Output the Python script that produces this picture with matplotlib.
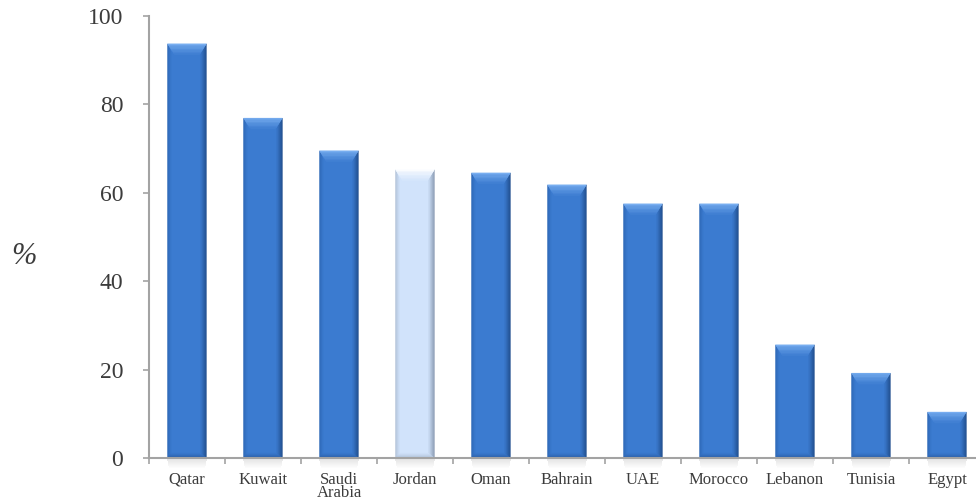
import matplotlib
matplotlib.use("Agg")
import matplotlib.pyplot as plt
import numpy as np
from matplotlib.patches import Polygon, Rectangle
from matplotlib.colors import to_rgb
from matplotlib.ticker import FixedLocator

countries = ["Qatar", "Kuwait", "Saudi\nArabia", "Jordan", "Oman", "Bahrain",
             "UAE", "Morocco", "Lebanon", "Tunisia", "Egypt"]
values = [93.7, 76.9, 69.5, 65.2, 64.5, 61.8, 57.5, 57.5, 25.6, 19.2, 10.4]
highlight = "Jordan"
y_ticks = [0, 20, 40, 60, 80, 100]

plt.rcParams["font.family"] = ["Liberation Serif", "DejaVu Serif"]
text_color = "#3c3c3c"
axis_color = "#a3a3a3"

W, H = 976, 497
fig = plt.figure(figsize=(W / 100, H / 100), dpi=100)
ax = fig.add_axes([149 / W, 39 / H, 836 / W, 442 / H])
ax.set_xlim(-0.5, len(values) - 0.5)
ax.set_ylim(0, 100)

# pixel -> data conversion for the bevel geometry
px_x = len(values) / 836.0
px_y = 100 / 442.0

bar_w = 0.51
palettes = {
    "normal": dict(body="#3b7bd0", top="#78aef0", left="#2f69b8",
                   right="#22508f", bottom="#2a5ea6"),
    "light": dict(body="#d1e3fb", top="#fbfdff", left="#b4c4da",
                  right="#8c9db5", bottom="#b0c1d8"),
}


def mix(c1, c2, t):
    a, b = np.array(to_rgb(c1)), np.array(to_rgb(c2))
    return tuple(a + (b - a) * t)


N = 8
for i, (name, v) in enumerate(zip(countries, values)):
    pal = palettes["light" if name == highlight else "normal"]
    x0, x1 = i - bar_w / 2, i + bar_w / 2
    # soft shadow under the axis
    for k in range(10):
        ax.add_patch(Rectangle((x0 - 0.01 + k * 0.003, -(k + 1) * px_y),
                               bar_w + 0.02 - k * 0.006, px_y,
                               facecolor="#000000", alpha=0.11 * (1 - k / 10),
                               edgecolor="none", clip_on=False, zorder=1))
    ax.bar(i, v, width=bar_w, color=pal["body"], edgecolor="none", zorder=2)

    sx_l, sx_r = 4 * px_x, 6 * px_x
    top_h, top_in = 11 * px_y, 7 * px_x
    bot_h = 5 * px_y
    # side bevels, darkest at the outer edge
    for k in range(N):
        t0, t1 = k / N, (k + 1) / N
        c = mix(pal["left"], pal["body"], t0)
        ax.add_patch(Polygon([(x0 + sx_l * t0, bot_h * t0), (x0 + sx_l * t1, bot_h * t1),
                              (x0 + sx_l * t1, v - top_h * t1), (x0 + sx_l * t0, v - top_h * t0)],
                             closed=True, facecolor=c, edgecolor=c, lw=0.3, zorder=3))
        c = mix(pal["right"], pal["body"], t0)
        ax.add_patch(Polygon([(x1 - sx_r * t0, bot_h * t0), (x1 - sx_r * t1, bot_h * t1),
                              (x1 - sx_r * t1, v - top_h * t1), (x1 - sx_r * t0, v - top_h * t0)],
                             closed=True, facecolor=c, edgecolor=c, lw=0.3, zorder=3))
    # bottom bevel
    for k in range(N):
        t0, t1 = k / N, (k + 1) / N
        c = mix(pal["bottom"], pal["body"], t0)
        ax.add_patch(Polygon([(x0 + sx_l * t0, bot_h * t0), (x1 - sx_r * t0, bot_h * t0),
                              (x1 - sx_r * t1, bot_h * t1), (x0 + sx_l * t1, bot_h * t1)],
                             closed=True, facecolor=c, edgecolor=c, lw=0.3, zorder=3))
    # top bevel, lightest at the upper edge
    for k in range(N):
        t0, t1 = k / N, (k + 1) / N
        c = mix(pal["top"], pal["body"], t0 ** 0.8)
        ax.add_patch(Polygon([(x0 + top_in * t0, v - top_h * t0), (x1 - top_in * t0, v - top_h * t0),
                              (x1 - top_in * t1, v - top_h * t1), (x0 + top_in * t1, v - top_h * t1)],
                             closed=True, facecolor=c, edgecolor=c, lw=0.3, zorder=4))

for s in ("top", "right"):
    ax.spines[s].set_visible(False)
for s in ("left", "bottom"):
    ax.spines[s].set_color(axis_color)
    ax.spines[s].set_linewidth(1.5)
    ax.spines[s].set_zorder(5)

ax.set_yticks(y_ticks)
ax.set_yticklabels([str(t) for t in y_ticks])
ax.tick_params(axis="y", direction="out", length=4.5, width=1.2, color=axis_color,
               pad=14, labelsize=17, labelcolor=text_color)

ax.set_xticks(range(len(countries)))
ax.set_xticklabels(countries, linespacing=0.8, va="top")
ax.xaxis.set_minor_locator(FixedLocator([i - 0.5 for i in range(len(countries) + 1)]))
ax.tick_params(axis="x", which="major", length=0, pad=10, labelsize=12,
               labelcolor=text_color)
ax.tick_params(axis="x", which="minor", direction="out", length=4.5, width=1.2,
               color=axis_color)

fig.text(24 / W, 1 - 257 / H, "%", fontsize=22, style="italic", color=text_color,
         ha="center", va="center")

fig.savefig("out.png", dpi=100)
